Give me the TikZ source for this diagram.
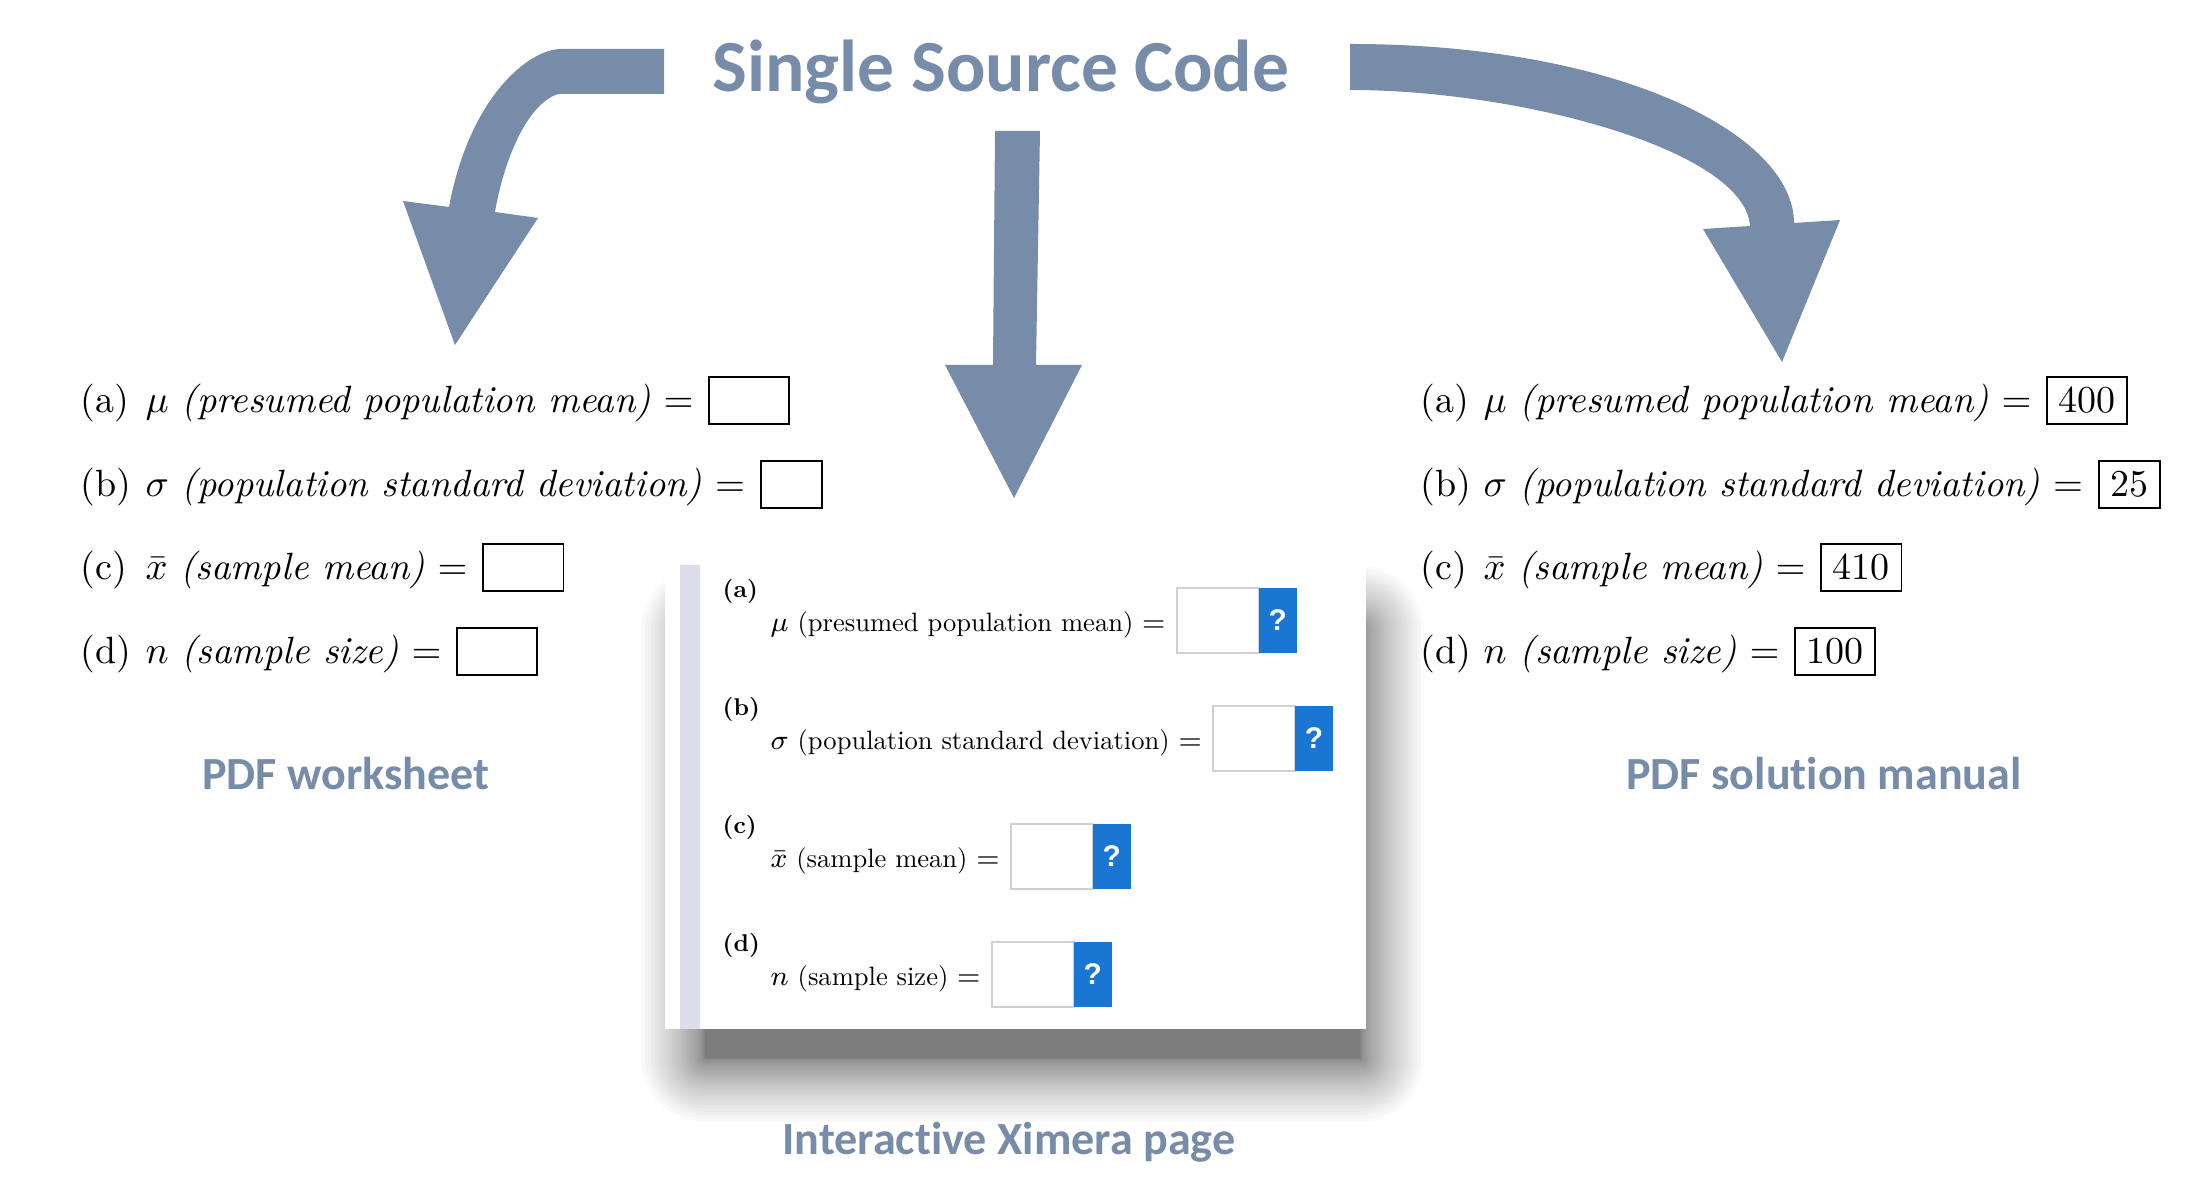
\documentclass[tikz,border=0pt]{standalone}
\usepackage{fontspec}
\newfontfamily\calibrifont[Ligatures = NoCommon]{Carlito}
\newfontfamily\iconfont{Liberation Sans}
\newfontfamily\mjfont{lmroman10-regular}[Extension = .otf, BoldFont = lmroman10-bold]
\usetikzlibrary{positioning}
\definecolor{srcblue}{RGB}{118,140,168}
\definecolor{xblue}{RGB}{25,118,210}
\definecolor{ximerabar}{RGB}{221,221,235}
\definecolor{xborder}{RGB}{208,208,208}

\tikzset{
  bigarrow/.style = {fill = srcblue, draw = none},
  headline/.style = {text = srcblue, anchor = base, inner sep = 0pt,
                     font = \calibrifont\bfseries\fontsize{20.9}{25}\selectfont},
  outlabel/.style = {text = srcblue, anchor = base, inner sep = 0pt,
                     font = \calibrifont\bfseries\fontsize{13.1}{15}\selectfont},
  pdfitem/.style = {anchor = base west, inner sep = 0pt, font = \fontsize{10.8}{13}\selectfont},
  ansbox/.style = {draw, line width = .5pt, inner xsep = 3.3pt, inner ysep = 3pt,
                   font = \fontsize{10.8}{13}\selectfont},
  xlabel/.style = {anchor = base west, inner sep = 0pt, font = \mjfont\fontsize{6.9}{8}\selectfont\bfseries},
  xitem/.style = {anchor = base west, inner sep = 0pt, font = \mjfont\fontsize{7.55}{9}\selectfont},
  xinput/.style = {draw = xborder, fill = white, line width = .6pt, inner sep = 0pt, outer sep = 0pt,
                   minimum width = 23.3pt, minimum height = 18.5pt},
  xbutton/.style = {fill = xblue, text = white, inner sep = 0pt, outer sep = 0pt,
                    minimum width = 10.8pt, minimum height = 18.5pt,
                    font = \iconfont\bfseries\fontsize{8.5}{9}\selectfont}
}

\begin{document}
\begin{tikzpicture}[x = 0.01cm, y = -0.01cm]
  \useasboundingbox (0,0) rectangle (2193,1195);

  % the three arrows
  \fill [bigarrow] (664,49) -- (561,49) .. controls (530,49) and (470,95) .. (449,207)
    -- (403,201) -- (455,345) -- (538,218) -- (495,212)
    .. controls (503,165) and (525,105) .. (558,94) -- (664,94) -- cycle;
  \fill [bigarrow] (995,131) -- (1040,131) -- (1036,365) -- (1082,365) -- (1014,498)
    -- (945,365) -- (993,365) -- cycle;
  \fill [bigarrow] (1350,44) .. controls (1620,44) and (1794,135) .. (1794,223)
    -- (1840,220) -- (1782,362) -- (1703,229) -- (1750,226)
    .. controls (1745,150) and (1520,90) .. (1350,90) -- cycle;

  \node [headline] (source) at (1001,92) {Single Source Code};

  % shadow and ximera panel
  \foreach \i [evaluate = \i as \r using 64*(\i/36)^2] in {1,...,36}
    \fill [black, opacity = .019, rounded corners = \r*0.01cm]
      (705-\r,630-\r) rectangle (1360+\r,1058+\r);
  \fill [white] (665,565) rectangle (1366,1029);
  \fill [ximerabar] (680,565) rectangle (700,1029);

  \foreach \lab/\sym/\txt/\k in {a/\mu/presumed population mean/0,
      b/\sigma/population standard deviation/1, c/\bar{x}/sample mean/2, d/n/sample size/3} {
    \node [xlabel] (xl\lab) at (722,{598+118*\k}) {(\lab)};
    \node [xitem] (xt\lab) at (770,{632+118*\k}) {$\sym$ (\txt) $=$};
    \node [xinput, right = 3pt of xt\lab.base east, anchor = west, yshift = 3.3pt] (xi\lab) {};
    \node [xbutton, right = 0pt of xi\lab.east, anchor = west] (xq\lab) {?};
  }

  % worksheet and solution manual
  \foreach \lab/\sym/\txt/\val/\yy in {a/\mu/presumed population mean/400/413,
      b/\sigma/population standard deviation/25/497, c/\bar{x}/sample mean/410/580,
      d/n/sample size/100/664} {
    \node [pdfitem] (wl\lab) at (80,\yy) {(\lab)};
    \node [pdfitem] (wt\lab) at (145,\yy) {$\sym$ \textit{(\txt)} $=$};
    \node [ansbox, right = 4pt of wt\lab.base east, anchor = base west] (wb\lab) {\phantom{\val}};
    \node [pdfitem] (sl\lab) at (1420,\yy) {(\lab)};
    \node [pdfitem] (st\lab) at (1483,\yy) {$\sym$ \textit{(\txt)} $=$};
    \node [ansbox, right = 4pt of st\lab.base east, anchor = base west] (sb\lab) {\val};
  }

  \node [outlabel] (worksheet) at (346,790) {PDF worksheet};
  \node [outlabel] (manual) at (1824,790) {PDF solution manual};
  \node [outlabel] (ximera) at (1009,1155) {Interactive Ximera page};
\end{tikzpicture}
\end{document}
